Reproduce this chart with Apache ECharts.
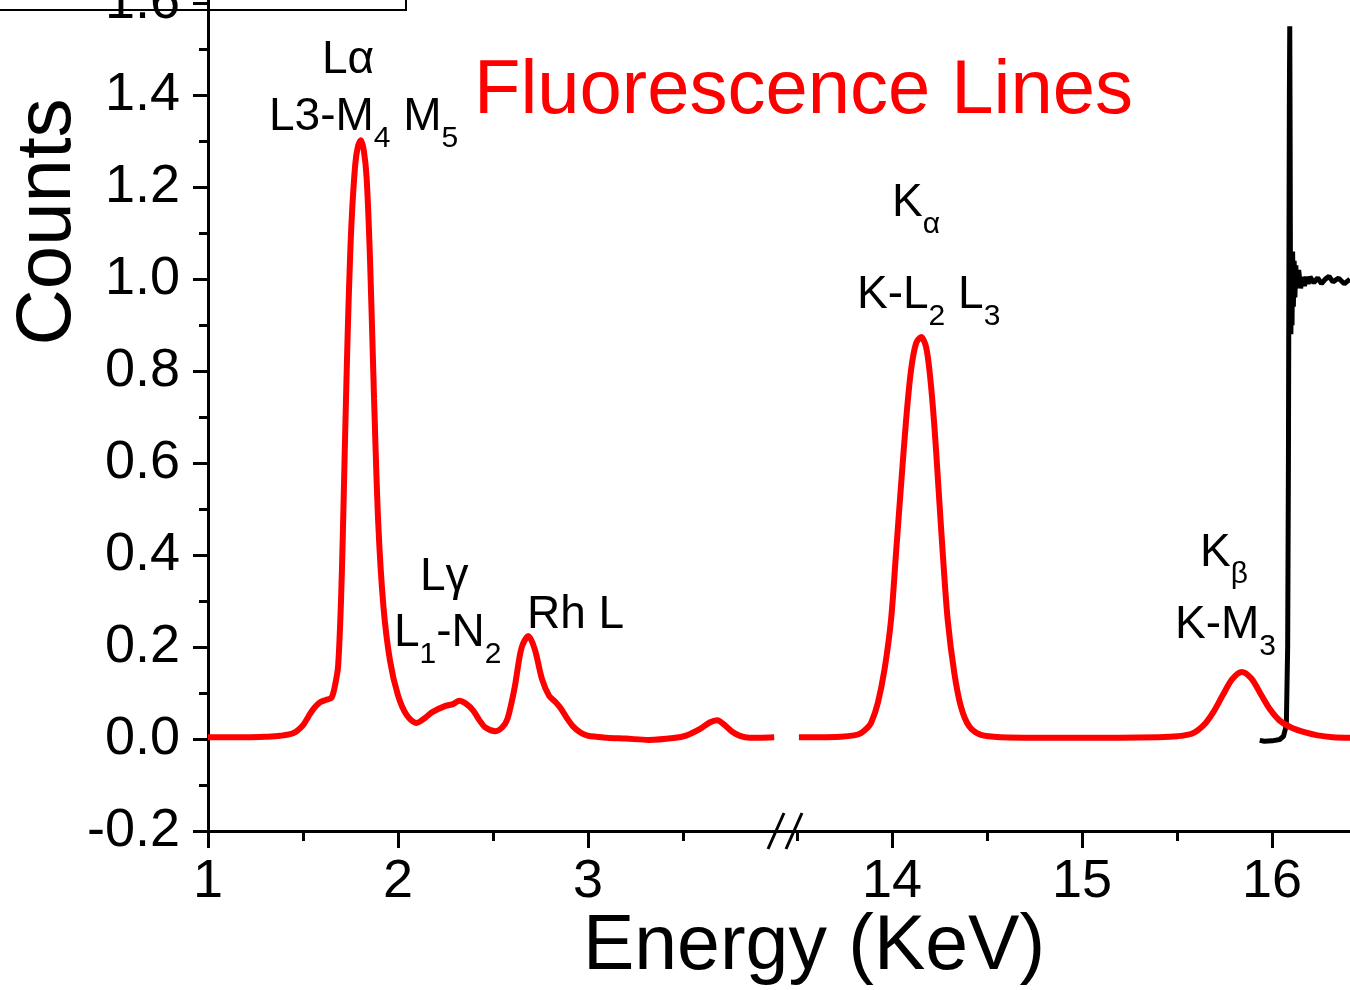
<!DOCTYPE html>
<html>
<head>
<meta charset="utf-8">
<script src="https://cdn.jsdelivr.net/npm/echarts@6/dist/echarts.min.js"></script>
<style>
  html, body { margin: 0; padding: 0; background: #fff; }
  #chart { width: 1350px; height: 990px; }
</style>
</head>
<body>
<div id="chart"></div>
<script>
// L-line window (keV / counts)
const lowEnergy = [1.00, 1.10, 1.20, 1.30, 1.38, 1.45, 1.50, 1.53, 1.56, 1.59, 1.62, 1.65, 1.67, 1.685,
  1.70, 1.71, 1.72, 1.73, 1.74, 1.755, 1.775, 1.79, 1.805, 1.82, 1.835, 1.853, 1.874, 1.896, 1.923,
  1.958, 2.00, 2.046, 2.098, 2.14, 2.178, 2.25, 2.29, 2.323, 2.36, 2.396, 2.43, 2.46, 2.513, 2.55,
  2.577, 2.613, 2.65, 2.686, 2.72, 2.758, 2.795, 2.83, 2.858, 2.89, 2.92, 2.96, 3.00, 3.10, 3.20,
  3.32, 3.45, 3.52, 3.59, 3.64, 3.68, 3.72, 3.755, 3.80, 3.85, 3.90, 3.98];
const lowCounts = [0.004, 0.004, 0.004, 0.005, 0.007, 0.013, 0.03, 0.05, 0.068, 0.08, 0.085, 0.09, 0.12, 0.16,
  0.30, 0.45, 0.63, 0.80, 0.95, 1.12, 1.25, 1.29, 1.302, 1.28, 1.22, 1.04, 0.74, 0.47, 0.29,
  0.17, 0.095, 0.052, 0.035, 0.045, 0.058, 0.072, 0.076, 0.083, 0.076, 0.062, 0.04, 0.025, 0.017, 0.026,
  0.045, 0.11, 0.198, 0.224, 0.195, 0.13, 0.094, 0.08, 0.066, 0.045, 0.028, 0.014, 0.007, 0.003, 0.001,
  -0.002, 0.002, 0.008, 0.022, 0.036, 0.041, 0.03, 0.017, 0.007, 0.003, 0.003, 0.004];

// K-line window
const highEnergy = [13.51, 13.62, 13.73, 13.80, 13.837, 13.87, 13.89, 13.925, 13.96, 13.995, 14.021, 14.047,
  14.074, 14.10, 14.126, 14.153, 14.179, 14.20, 14.223, 14.244, 14.267, 14.293, 14.328, 14.363, 14.407,
  14.468, 14.574, 14.8, 15.0, 15.2, 15.4, 15.5, 15.58, 15.64, 15.69, 15.74, 15.79, 15.84, 15.89, 15.94,
  15.99, 16.04, 16.10, 16.17, 16.24, 16.32, 16.41];
const highCounts = [0.004, 0.004, 0.005, 0.008, 0.013, 0.024, 0.035, 0.078, 0.15, 0.26, 0.404, 0.549,
  0.693, 0.802, 0.86, 0.874, 0.853, 0.79, 0.68, 0.549, 0.404, 0.259, 0.143, 0.07, 0.027,
  0.009, 0.004, 0.003, 0.003, 0.003, 0.004, 0.006, 0.012, 0.03, 0.058, 0.095, 0.13, 0.146, 0.132, 0.098,
  0.064, 0.04, 0.025, 0.015, 0.008, 0.004, 0.003];

// absorption edge scan (black)
const edgeEnergy = [15.935, 15.96, 16.0, 16.04, 16.06, 16.075, 16.082, 16.086, 16.089, 16.091, 16.093, 16.095,
  16.097, 16.099, 16.102, 16.105, 16.108, 16.112, 16.116, 16.12, 16.125, 16.13, 16.14, 16.15, 16.16,
  16.17, 16.18, 16.19, 16.2, 16.22, 16.24, 16.26, 16.28, 16.3, 16.32, 16.35, 16.38, 16.41];
const edgeCounts = [-0.003, -0.005, -0.004, -0.001, 0.006, 0.03, 0.2, 0.6, 1.1, 1.4, 1.55, 1.3,
  0.95, 0.88, 1.05, 0.9, 1.06, 0.94, 1.04, 0.96, 1.03, 0.98, 1.02, 0.98, 1.005,
  0.985, 1.005, 0.99, 1.005, 0.992, 1.003, 0.99, 1.0, 1.006, 0.994, 1.002, 0.99, 1.0];

const lowMajorTicks = [1, 2, 3];
const lowMinorTicks = [1.5, 2.5, 3.5];
const highMajorTicks = [14, 15, 16];
const highMinorTicks = [13.5, 14.5, 15.5];
const yMajorTicks = [-0.2, 0, 0.2, 0.4, 0.6, 0.8, 1.0, 1.2, 1.4, 1.6];
const yMinorTicks = [-0.1, 0.1, 0.3, 0.5, 0.7, 0.9, 1.1, 1.3, 1.5];

const FONT = '"Liberation Sans", Arial, sans-serif';
const zip = (xs, ys) => xs.map((x, i) => [x, ys[i]]);

const chart = echarts.init(document.getElementById('chart'), null, { renderer: 'canvas' });

const axisLineStyle = { color: '#000', width: 3 };
const tickLabel = { color: '#000', fontSize: 54, fontFamily: FONT };

function xAxisPair(grid, min, max, majors, minors) {
  return [{
    gridIndex: grid, type: 'value', position: 'bottom', min: min, max: max,
    axisLine: { show: true, onZero: false, lineStyle: axisLineStyle },
    axisTick: { show: true, customValues: majors, length: 17, lineStyle: axisLineStyle },
    axisLabel: Object.assign({ customValues: majors, margin: 24 }, tickLabel),
    splitLine: { show: false }
  }, {
    gridIndex: grid, type: 'value', position: 'bottom', min: min, max: max,
    axisLine: { show: false, onZero: false },
    axisTick: { show: true, customValues: minors, length: 10, lineStyle: axisLineStyle },
    axisLabel: { show: false },
    splitLine: { show: false }
  }];
}

const rich = {
  b: { fontSize: 46, lineHeight: 50, verticalAlign: 'top', fontFamily: FONT, fill: '#000' },
  s: { fontSize: 30, lineHeight: 30, padding: [30, 0, 0, 0], verticalAlign: 'top', fontFamily: FONT, fill: '#000' }
};
function note(x, y, text) {
  return {
    type: 'text', x: x, y: y + 3, z: 10,
    style: { text: text, rich: rich, fontFamily: FONT, fontSize: 46, fill: '#000', verticalAlign: 'top', textAlign: 'left' }
  };
}

chart.setOption({
  animation: false,
  backgroundColor: '#fff',
  grid: [
    { left: 208, top: -6, width: 579.5, bottom: 159, containLabel: false, outerBoundsMode: 'none' },
    { left: 787.5, top: -6, right: 0, bottom: 159, containLabel: false, outerBoundsMode: 'none' }
  ],
  xAxis: [].concat(
    xAxisPair(0, 1, 4.05, lowMajorTicks, lowMinorTicks),
    xAxisPair(1, 13.45, 16.41, highMajorTicks, highMinorTicks)
  ),
  yAxis: [{
    gridIndex: 0, type: 'value', position: 'left', min: -0.2, max: 1.62,
    axisLine: { show: true, onZero: false, lineStyle: axisLineStyle },
    axisTick: { show: true, customValues: yMajorTicks, length: 15, lineStyle: axisLineStyle },
    axisLabel: Object.assign({ customValues: yMajorTicks, margin: 28, formatter: v => v.toFixed(1) }, tickLabel),
    splitLine: { show: false }
  }, {
    gridIndex: 0, type: 'value', position: 'left', min: -0.2, max: 1.62,
    axisLine: { show: false, onZero: false },
    axisTick: { show: true, customValues: yMinorTicks, length: 9, lineStyle: axisLineStyle },
    axisLabel: { show: false },
    splitLine: { show: false }
  }, {
    gridIndex: 1, type: 'value', min: -0.2, max: 1.62, show: false
  }],
  series: [{
    type: 'line', xAxisIndex: 0, yAxisIndex: 0,
    data: zip(lowEnergy, lowCounts),
    showSymbol: false, symbol: 'none', smooth: 0.3,
    lineStyle: { color: '#ff0000', width: 6 }, z: 3
  }, {
    type: 'line', xAxisIndex: 2, yAxisIndex: 2,
    data: zip(edgeEnergy, edgeCounts),
    showSymbol: false, symbol: 'none',
    lineStyle: { color: '#000', width: 5 }, z: 2
  }, {
    type: 'line', xAxisIndex: 2, yAxisIndex: 2,
    data: zip(highEnergy, highCounts),
    showSymbol: false, symbol: 'none', smooth: 0.3,
    lineStyle: { color: '#ff0000', width: 6 }, z: 3
  }],
  graphic: [
    // cropped legend frame at the top
    { type: 'rect', shape: { x: -10, y: -60, width: 416, height: 70 },
      style: { fill: 'rgba(0,0,0,0)', stroke: '#000', lineWidth: 2 } },
    { type: 'text', x: 262, y: 0, style: { text: 'Kβ', fontSize: 36, fontFamily: FONT, fill: '#000', verticalAlign: 'bottom' } },
    // axis break marks
    { type: 'line', shape: { x1: 768, y1: 849, x2: 784, y2: 813 }, style: { stroke: '#000', lineWidth: 3 } },
    { type: 'line', shape: { x1: 786, y1: 849, x2: 802, y2: 813 }, style: { stroke: '#000', lineWidth: 3 } },
    // axis titles
    { type: 'text', x: 814, y: 948,
      style: { text: 'Energy (KeV)', fontSize: 77, fontFamily: FONT, fill: '#000', textAlign: 'center', verticalAlign: 'middle' } },
    { type: 'text', x: 48, y: 222, rotation: Math.PI / 2,
      style: { text: 'Counts', fontSize: 78, fontFamily: FONT, fill: '#000', textAlign: 'center', verticalAlign: 'middle' } },
    { type: 'text', x: 474, y: 92,
      style: { text: 'Fluorescence Lines', fontSize: 76, fontFamily: FONT, fill: '#ff0000', textAlign: 'left', verticalAlign: 'middle' } },
    // line labels
    note(322, 34, '{b|Lα}'),
    note(269, 91, '{b|L3-M}{s|4}{b| M}{s|5}'),
    note(420, 551, '{b|Lγ}'),
    note(394, 607, '{b|L}{s|1}{b|-N}{s|2}'),
    note(527, 589, '{b|Rh L}'),
    note(892, 177, '{b|K}{s|α}'),
    note(857, 269, '{b|K-L}{s|2}{b| L}{s|3}'),
    note(1200, 527, '{b|K}{s|β}'),
    note(1175, 599, '{b|K-M}{s|3}')
  ]
});
</script>
</body>
</html>
